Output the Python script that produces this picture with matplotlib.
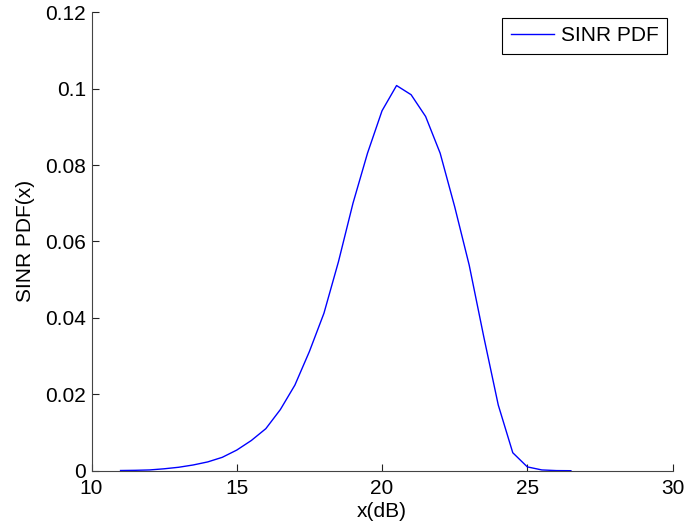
import matplotlib
matplotlib.use("Agg")
import matplotlib.pyplot as plt

x_db = [11.0, 11.5, 12.0, 12.5, 13.0, 13.5, 14.0, 14.5, 15.0, 15.5, 16.0, 16.5,
        17.0, 17.5, 18.0, 18.5, 19.0, 19.5, 20.0, 20.5, 21.0, 21.5, 22.0, 22.5,
        23.0, 23.5, 24.0, 24.5, 25.0, 25.5, 26.0, 26.5]
pdf = [0.00005, 0.0001, 0.0002, 0.0005, 0.0009, 0.0015, 0.0023, 0.0035, 0.0054,
       0.0079, 0.0110, 0.0160, 0.0224, 0.0312, 0.0412, 0.0547, 0.0700, 0.0831,
       0.0942, 0.1008, 0.0984, 0.0927, 0.0831, 0.0691, 0.0538, 0.0351, 0.0172,
       0.0047, 0.0010, 0.0002, 0.00003, 0.0]
x_ticks = [10, 15, 20, 25, 30]
y_ticks = [0, 0.02, 0.04, 0.06, 0.08, 0.1, 0.12]
y_tick_labels = ["0", "0.02", "0.04", "0.06", "0.08", "0.1", "0.12"]

plt.rcParams['font.family'] = ['Liberation Sans', 'DejaVu Sans']
FS = 15

fig = plt.figure(figsize=(6.87, 5.29), dpi=100)
ax = fig.add_axes([0.1332, 0.1102, 0.979 - 0.1332, 0.977 - 0.1102])

ax.plot(x_db, pdf, color='#0000ff', lw=1.0, label='SINR PDF')
ax.set_xlim(10, 30)
ax.set_ylim(0, 0.12)
ax.set_xticks(x_ticks)
ax.set_xticklabels([str(t) for t in x_ticks])
ax.set_yticks(y_ticks)
ax.set_yticklabels(y_tick_labels)

for s in ['top', 'right']:
    ax.spines[s].set_visible(False)
for s in ['left', 'bottom']:
    ax.spines[s].set_color('#444444')
    ax.spines[s].set_linewidth(0.8)

ax.tick_params(direction='in', length=5, width=0.8, color='#222222',
               labelsize=FS, top=False, right=False)
ax.tick_params(axis='x', pad=6)
ax.tick_params(axis='y', pad=4)

ax.set_xlabel('x(dB)', fontsize=FS, labelpad=3)
ax.set_ylabel('SINR PDF(x)', fontsize=FS, labelpad=7)

leg = ax.legend(loc='upper right', fontsize=FS, fancybox=False, framealpha=1,
                edgecolor='black', borderaxespad=0.28, handlelength=2.1,
                handletextpad=0.3, borderpad=0.4)
leg.get_frame().set_linewidth(0.8)

fig.savefig('out.png', dpi=100)
